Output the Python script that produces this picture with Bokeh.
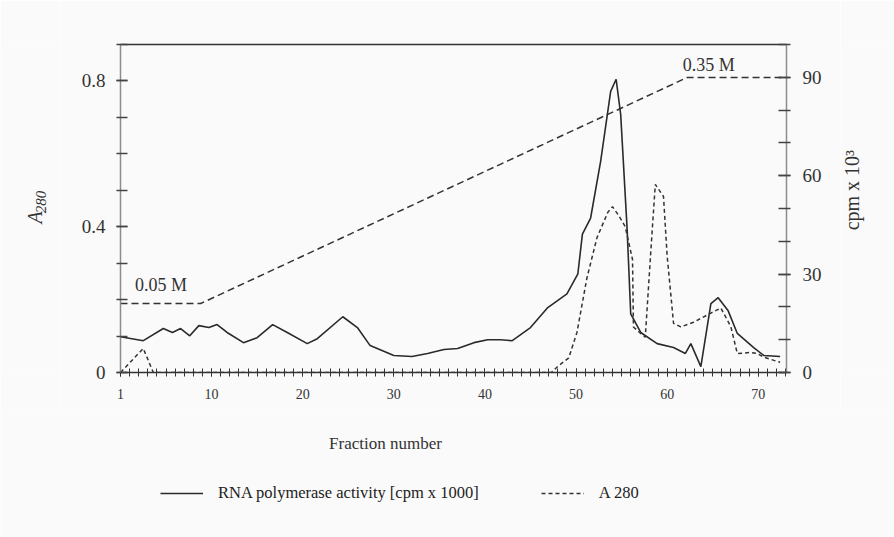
import math
from bokeh.plotting import figure
from bokeh.layouts import row, column
from bokeh.models import Range1d, LinearAxis, FixedTicker, Label, Legend, LegendItem
from bokeh.embed import file_html
from bokeh.resources import INLINE

# ---- data ----
frac_cpm = [0, 2.5, 4.7, 5.7, 6.6, 7.6, 8.6, 9.7, 10.6, 11.7, 13.5, 15, 16.7, 18.3,
            20.5, 21.6, 24.4, 26, 27.4, 30, 32, 33.7, 35.5, 37, 38.8, 40.3, 41.7, 43,
            45, 46.9, 49, 50.2, 50.7, 51.6, 52.7, 53.8, 54.4, 54.9, 55.6, 56, 57.1,
            58.9, 60.7, 62, 62.6, 63.7, 64.8, 65.6, 66.7, 67.7, 69.5, 70.6, 72.4]
cpm = [10.9, 9.7, 13.4, 12.2, 13.4, 11.2, 14.3, 13.7, 14.6, 12.2, 9.1, 10.6, 14.6, 12.2,
       8.8, 10.3, 17.0, 13.7, 8.2, 5.2, 4.9, 5.8, 7.0, 7.3, 9.1, 10.0, 10.0, 9.7,
       13.7, 19.8, 24.0, 30.1, 42.2, 47.1, 64.4, 85.7, 89.4, 78.7, 44.1, 17.9, 12.2,
       8.8, 7.6, 5.8, 8.8, 1.8, 21.0, 22.8, 18.8, 11.9, 7.6, 5.2, 4.9]

frac_a = [0, 2.5, 3.6, 47.3, 48, 49.2, 50.1, 51.2, 52.3, 53.5, 54, 54.7, 55.4, 56.2, 56.3,
          57.1, 57.6, 58.2, 58.7, 59.6, 60, 60.7, 61.5, 62.9, 64.8, 65.9, 67, 67.7,
          69.2, 69.9, 70.6, 72.4]
a280 = [0, 0.066, 0, 0, 0.017, 0.04, 0.11, 0.26, 0.37, 0.44, 0.455, 0.43, 0.40, 0.31, 0.125,
        0.107, 0.097, 0.33, 0.516, 0.483, 0.32, 0.135, 0.125, 0.138, 0.163, 0.177, 0.125, 0.052,
        0.055, 0.052, 0.042, 0.028]

frac_salt = [0, 8.8, 62.2, 73.1]
salt = [0.05, 0.05, 0.35, 0.35]

x_ticks = [0, 10, 20, 30, 40, 50, 60, 70]
x_tick_labels = {0: "1"}
left_ticks = [0, 0.4, 0.8]
right_ticks = [0, 30, 60, 90]

FONT = "Liberation Serif"
BG = "#fafafa"
INK = "#333333"
CPM_STYLE = dict(line_color="#2a2a2a", line_width=1.6)
A280_STYLE = dict(line_color=INK, line_width=1.5, line_dash="4 3")


def blank_panel(w, h):
    f = figure(width=w, height=h, output_backend="svg", toolbar_location=None,
               x_range=Range1d(0, w), y_range=Range1d(0, h),
               x_axis_type=None, y_axis_type=None, min_border=0,
               background_fill_color=BG, border_fill_color=BG, outline_line_color=None)
    f.xgrid.visible = False
    f.ygrid.visible = False
    return f


# ---------------- main chart ----------------
p = figure(width=780, height=410, output_backend="svg", toolbar_location=None,
           x_range=Range1d(0, 73.1), y_range=Range1d(0, 0.9),
           min_border_left=60, min_border_right=54, min_border_top=44,
           min_border_bottom=38, background_fill_color=BG, border_fill_color=BG,
           outline_line_color=None)
p.extra_y_ranges = {"cpm": Range1d(0, 100), "salt": Range1d(-0.0416, 0.3938)}
p.xgrid.visible = False
p.ygrid.visible = False

xa = p.xaxis[0]
xa.ticker = FixedTicker(ticks=x_ticks, minor_ticks=list(range(0, 74)))
xa.major_label_overrides = x_tick_labels
xa.axis_line_color = INK
xa.axis_line_width = 1.5
xa.major_tick_line_color = INK
xa.minor_tick_line_color = INK
xa.major_tick_in = 4
xa.major_tick_out = 4
xa.minor_tick_in = 4
xa.minor_tick_out = 4
xa.major_label_standoff = 12
xa.major_label_text_font = FONT
xa.major_label_text_font_size = "14px"
xa.major_label_text_color = INK

ya = p.yaxis[0]
ya.ticker = FixedTicker(ticks=left_ticks, minor_ticks=[i / 10 for i in range(10)])
ya.axis_line_color = "#8c8c8c"
ya.axis_line_width = 1.5
ya.major_tick_line_color = "#444444"
ya.minor_tick_line_color = "#444444"
ya.major_tick_line_width = 1.5
ya.minor_tick_line_width = 1.5
ya.major_tick_in = 7
ya.major_tick_out = 4
ya.minor_tick_in = 7
ya.minor_tick_out = 4
ya.major_label_standoff = 11
ya.major_label_text_font = FONT
ya.major_label_text_font_size = "19px"
ya.major_label_text_color = INK

ra = LinearAxis(y_range_name="cpm",
                ticker=FixedTicker(ticks=right_ticks, minor_ticks=list(range(0, 101, 10))))
ra.axis_line_color = "#8c8c8c"
ra.axis_line_width = 1.5
ra.major_tick_line_color = "#444444"
ra.minor_tick_line_color = "#444444"
ra.major_tick_line_width = 1.5
ra.minor_tick_line_width = 1.5
ra.major_tick_in = 8
ra.major_tick_out = 4
ra.minor_tick_in = 8
ra.minor_tick_out = 4
ra.major_label_standoff = 12
ra.major_label_text_font = FONT
ra.major_label_text_font_size = "19px"
ra.major_label_text_color = INK
p.add_layout(ra, "right")

ta = LinearAxis(ticker=FixedTicker(ticks=[]))
ta.axis_line_color = INK
ta.axis_line_width = 1.5
ta.major_tick_line_color = None
ta.minor_tick_line_color = None
ta.major_label_text_font_size = "0px"
p.add_layout(ta, "above")

p.line(frac_salt, salt, y_range_name="salt", line_color=INK, line_width=1.5, line_dash="7 4")
p.line(frac_cpm, cpm, y_range_name="cpm", **CPM_STYLE)
p.line(frac_a, a280, **A280_STYLE)

p.add_layout(Label(x=1.6, y=0.075, y_range_name="salt", text="0.05 M",
                   text_font=FONT, text_font_size="18px", text_color=INK,
                   text_baseline="alphabetic"))
p.add_layout(Label(x=61.7, y=0.367, y_range_name="salt", text="0.35 M",
                   text_font=FONT, text_font_size="18px", text_color=INK,
                   text_baseline="alphabetic"))

# ---------------- left-hand axis title: A with subscript 280 ----------------
left = blank_panel(60, 410)
left.add_layout(Label(x=34, y=194, text="A", angle=math.pi / 2,
                      text_font=FONT, text_font_size="20px", text_font_style="italic",
                      text_color=INK, text_align="center", text_baseline="middle"))
left.add_layout(Label(x=40, y=213, text="280", angle=math.pi / 2,
                      text_font=FONT, text_font_size="15px", text_font_style="italic",
                      text_color=INK, text_align="center", text_baseline="middle"))

# ---------------- right-hand axis title ----------------
side = blank_panel(54, 410)
side.add_layout(Label(x=11, y=228, text="cpm x 10³", angle=math.pi / 2,
                      text_font=FONT, text_font_size="20px", text_color=INK,
                      text_align="center", text_baseline="middle"))

# ---------------- x title and legend ----------------
q = blank_panel(894, 127)
q.add_layout(Label(x=385, y=94, text="Fraction number", text_font=FONT,
                   text_font_size="17px", text_color=INK, text_align="center",
                   text_baseline="alphabetic"))
# legend keys: same series as in the main chart (hidden here)
k_cpm = q.line(frac_cpm, cpm, visible=False, **CPM_STYLE)
k_a = q.line(frac_a, a280, visible=False, **A280_STYLE)
legend = Legend(items=[LegendItem(label="RNA polymerase activity [cpm x 1000]", renderers=[k_cpm]),
                       LegendItem(label="A 280", renderers=[k_a])],
                orientation="horizontal", location=(160, 34), padding=0, margin=0,
                border_line_color=None, background_fill_alpha=0, glyph_width=43,
                glyph_height=20, label_standoff=15, spacing=62,
                label_text_font=FONT, label_text_font_size="16.5px", label_text_color="#222222")
q.add_layout(legend)

layout = column(row(left, p, side), q)
open("out.html", "w").write(file_html(layout, INLINE))
